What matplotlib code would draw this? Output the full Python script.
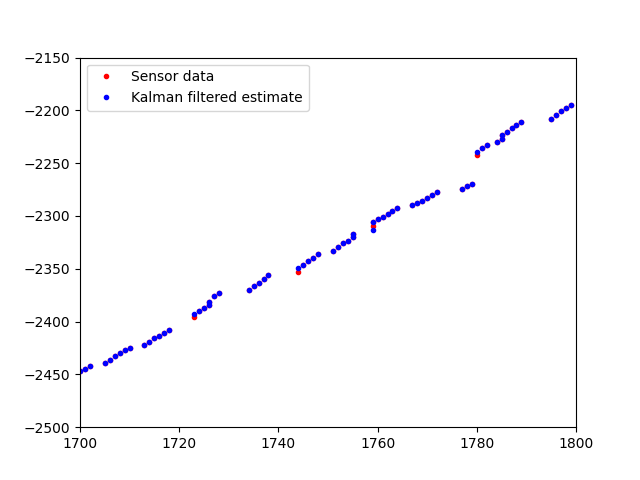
import matplotlib
matplotlib.use("Agg")
import matplotlib.pyplot as plt

# Kalman filtered estimate
est_x = [1700, 1701, 1702,
         1705, 1706, 1707, 1708, 1709, 1710,
         1713, 1714, 1715, 1716, 1717, 1718,
         1723, 1724, 1725, 1726, 1726, 1727, 1728,
         1734, 1735, 1736, 1737, 1738,
         1744, 1745, 1746, 1747, 1748,
         1751, 1752, 1753, 1754, 1755, 1755,
         1759, 1759, 1760, 1761, 1762, 1763, 1764,
         1767, 1768, 1769, 1770, 1771, 1772,
         1777, 1778, 1779,
         1780, 1781, 1782,
         1784, 1785, 1785, 1786, 1787, 1788, 1789,
         1795, 1796, 1797, 1798, 1799]
est_y = [-2447, -2445, -2442,
         -2439, -2436, -2433, -2430, -2427, -2425,
         -2422, -2419, -2416, -2414, -2411, -2408,
         -2393, -2390, -2387, -2384, -2381, -2376, -2373,
         -2370, -2366, -2363, -2360, -2356,
         -2349, -2346, -2343, -2340, -2336,
         -2333, -2329, -2326, -2324, -2320, -2317,
         -2313, -2306, -2303, -2301, -2298, -2295, -2292,
         -2290, -2288, -2286, -2283, -2280, -2277,
         -2274, -2272, -2270,
         -2239, -2236, -2233,
         -2230, -2227, -2223, -2220, -2217, -2214, -2211,
         -2208, -2204, -2201, -2198, -2195]

# Sensor data (same readings except where the filter differs visibly)
sensor_x = list(est_x)
sensor_y = list(est_y)
sensor_y[est_x.index(1723)] = -2396
sensor_y[est_x.index(1744)] = -2353
sensor_y[est_x.index(1759)] = -2309
sensor_y[est_x.index(1780)] = -2242

fig, ax = plt.subplots(figsize=(6.4, 4.8), dpi=100)
ax.plot(sensor_x, sensor_y, 'r.', label='Sensor data')
ax.plot(est_x, est_y, 'b.', label='Kalman filtered estimate')
ax.set_xlim(1700, 1800)
ax.set_ylim(-2500, -2150)
ax.legend(loc='upper left')
fig.savefig("out.png", dpi=100)
